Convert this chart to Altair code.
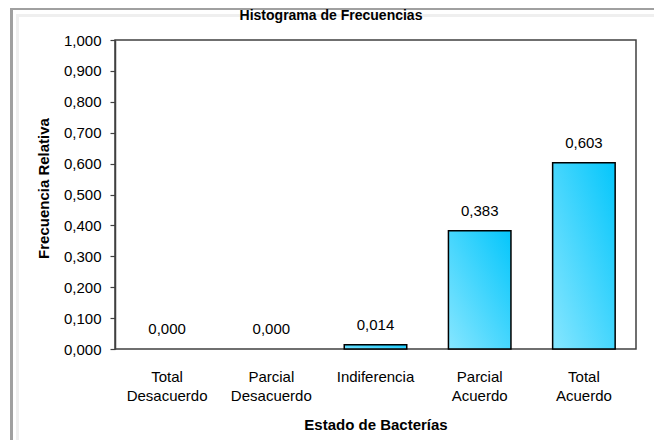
import altair as alt
import pandas as pd

categories = ["Total Desacuerdo", "Parcial Desacuerdo", "Indiferencia", "Parcial Acuerdo", "Total Acuerdo"]
values = [0.000, 0.000, 0.014, 0.383, 0.603]
y_ticks = [0.0, 0.1, 0.2, 0.3, 0.4, 0.5, 0.6, 0.7, 0.8, 0.9, 1.0]
title_text = "Histograma de Frecuencias"
x_title = "Estado de Bacterías"
y_title = "Frecuencia Relativa"

df = pd.DataFrame({"cat": categories, "val": values})
FONT = "Liberation Sans"

gradient = alt.Gradient(
    gradient="linear",
    stops=[alt.GradientStop(color="#86e6ff", offset=0), alt.GradientStop(color="#05c6fb", offset=1)],
    x1=0, y1=1, x2=1, y2=0,
)

base = alt.Chart(df)

x_enc = alt.X("cat:N", sort=categories, title=x_title,
              scale=alt.Scale(paddingInner=0.4, paddingOuter=0.2),
              axis=alt.Axis(labelAngle=0, labelExpr="split(datum.label, ' ')",
                            labelFontSize=15, labelFont=FONT, labelColor="#000000",
                            labelLineHeight=19, labelPadding=20, ticks=False, domain=False,
                            labelBaseline="top",
                            titleFontSize=15, titleFont=FONT, titleFontWeight="bold",
                            titleColor="#000000", titleY=75, titleBaseline="middle"))

y_enc = alt.Y("val:Q", title=y_title,
              scale=alt.Scale(domain=[0, 1], nice=False),
              axis=alt.Axis(values=y_ticks, grid=False, labelOverlap=False,
                            labelExpr="replace(format(datum.value, '.3f'), '.', ',')",
                            labelFontSize=15, labelFont=FONT, labelColor="#000000",
                            tickSize=5, labelPadding=9, tickColor="#404040",
                            domainColor="#404040", domainWidth=1.5, tickWidth=1.2,
                            titleFontSize=15, titleFont=FONT, titleFontWeight="bold",
                            titleColor="#000000", titleX=-72, titleY=148,
                            titleBaseline="middle", titleAngle=-90, titleAlign="center"))

bars = base.transform_filter("datum.val > 0").mark_bar(
    fill=gradient, stroke="#000000", strokeWidth=1.5
).encode(x=x_enc, y=y_enc)

labels = base.transform_calculate(
    lab="replace(format(datum.val, '.3f'), '.', ',')"
).mark_text(dy=-20, baseline="middle", fontSize=15, font=FONT, color="#000000").encode(
    x=x_enc,
    y=y_enc,
    text="lab:N",
)

one = alt.Data(values=[{}])
outer_c = "#a0a0a0"
inner_c = "#efefef"
frame = [
    alt.Chart(one).mark_rule(color=outer_c, strokeWidth=3).encode(
        x=alt.value(-103.5), y=alt.value(-31.5), y2=alt.value(420)),
    alt.Chart(one).mark_rule(color=outer_c, strokeWidth=3).encode(
        x=alt.value(-105), x2=alt.value(600), y=alt.value(-31.5)),
    alt.Chart(one).mark_rule(color=inner_c, strokeWidth=3).encode(
        x=alt.value(-97.5), y=alt.value(-26), y2=alt.value(420)),
    alt.Chart(one).mark_rule(color=inner_c, strokeWidth=3).encode(
        x=alt.value(-99), x2=alt.value(600), y=alt.value(-24.5)),
]

title = alt.Chart(alt.Data(values=[{"t": title_text}])).mark_text(
    fontSize=14, font=FONT, fontWeight="bold", color="#000000",
    align="center", baseline="alphabetic"
).encode(x=alt.value(216), y=alt.value(-20), text="t:N")

chart = alt.layer(bars, labels, *frame, title).properties(
    width=521, height=309,
    autosize=alt.AutoSizeParams(type="none"),
    padding={"left": 107, "top": 32, "right": 18, "bottom": 91},
).configure(background="#ffffff").configure_view(stroke="#404040", strokeWidth=1.5)

chart.save("out.html", embed_options={"renderer": "svg", "actions": False})
